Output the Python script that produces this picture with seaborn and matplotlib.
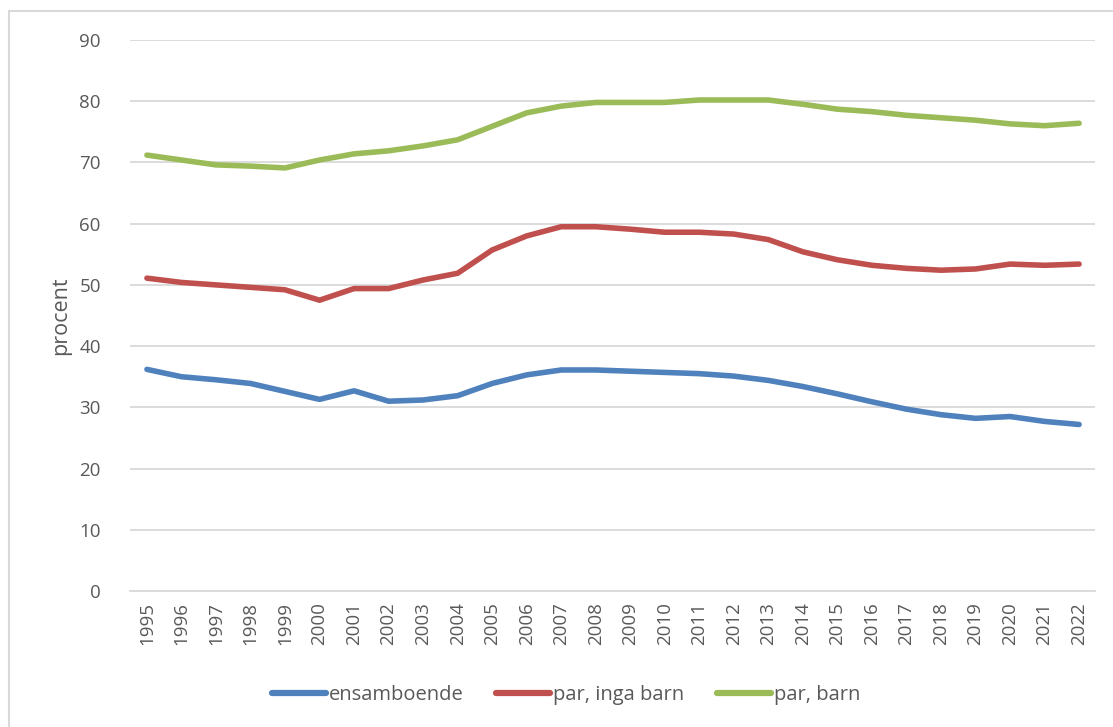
import matplotlib
matplotlib.use("Agg")
import matplotlib.pyplot as plt
from matplotlib.lines import Line2D
import pandas as pd
import seaborn as sns

years = list(range(1995, 2023))

ensamboende = [36.2, 35.0, 34.5, 33.9, 32.6, 31.3, 32.7, 31.0, 31.2, 31.9,
               33.9, 35.3, 36.1, 36.1, 35.9, 35.7, 35.5, 35.1, 34.4, 33.4,
               32.2, 30.9, 29.7, 28.8, 28.2, 28.5, 27.7, 27.2]
par_inga_barn = [51.1, 50.4, 50.0, 49.6, 49.2, 47.5, 49.4, 49.4, 50.8, 51.9,
                 55.7, 58.0, 59.5, 59.5, 59.1, 58.6, 58.6, 58.3, 57.4, 55.4,
                 54.1, 53.2, 52.7, 52.4, 52.6, 53.4, 53.2, 53.4]
par_barn = [71.2, 70.4, 69.6, 69.4, 69.1, 70.4, 71.4, 71.9, 72.7, 73.7,
            75.9, 78.1, 79.2, 79.8, 79.8, 79.8, 80.2, 80.2, 80.2, 79.5,
            78.7, 78.3, 77.7, 77.3, 76.9, 76.3, 76.0, 76.4]

series_names = ["ensamboende", "par, inga barn", "par, barn"]
colors = ["#4F81BD", "#C0504D", "#9BBB59"]
y_ticks = [0, 10, 20, 30, 40, 50, 60, 70, 80, 90]

df = pd.DataFrame({
    "år": years * 3,
    "procent": ensamboende + par_inga_barn + par_barn,
    "grupp": [series_names[0]] * len(years)
             + [series_names[1]] * len(years)
             + [series_names[2]] * len(years),
})

sns.set_theme(style="white")
plt.rcParams["font.family"] = ["Open Sans", "DejaVu Sans"]

fig = plt.figure(figsize=(11.13, 7.27), dpi=100)
ax = fig.add_axes([130 / 1113, 1 - 591 / 727, 965 / 1113, 551 / 727])

sns.lineplot(data=df, x="år", y="procent", hue="grupp", hue_order=series_names,
             palette=colors, linewidth=4.0, ax=ax, legend=False,
             solid_capstyle="round", solid_joinstyle="round")

ax.set_xlim(years[0] - 0.49, years[-1] + 0.46)
ax.set_ylim(0, 90)
ax.set_yticks(y_ticks)
ax.set_xticks(years)
ax.set_xticklabels([str(y) for y in years], rotation=90)
ax.tick_params(axis="both", colors="#595959", labelsize=13.5, length=0)
ax.tick_params(axis="y", pad=21)
ax.tick_params(axis="x", pad=8)
ax.yaxis.grid(True, color="#D9D9D9", linewidth=1.3)
ax.set_axisbelow(True)
for side in ["top", "right", "left"]:
    ax.spines[side].set_visible(False)
ax.spines["bottom"].set_color("#D9D9D9")
ax.spines["bottom"].set_linewidth(1.3)

ax.set_xlabel("")
ax.set_ylabel("procent", color="#595959", fontsize=15.5, labelpad=6)

handles = [Line2D([0], [0], color=c, linewidth=4.5, solid_capstyle="round")
           for c in colors]
fig.legend(handles, series_names, loc="center", ncol=3,
           bbox_to_anchor=(566 / 1113, 1 - 695 / 727), frameon=False,
           fontsize=14.5, labelcolor="#595959", handlelength=2.7,
           handletextpad=0.15, columnspacing=1.6)

# chart frame
fig.add_artist(Line2D([9 / 1113, 9 / 1113], [0, 1 - 11 / 727],
                      transform=fig.transFigure, color="#D9D9D9", linewidth=1.5))
fig.add_artist(Line2D([9 / 1113, 1], [1 - 11 / 727, 1 - 11 / 727],
                      transform=fig.transFigure, color="#D9D9D9", linewidth=1.5))

fig.savefig("out.png", dpi=100, facecolor="white")
